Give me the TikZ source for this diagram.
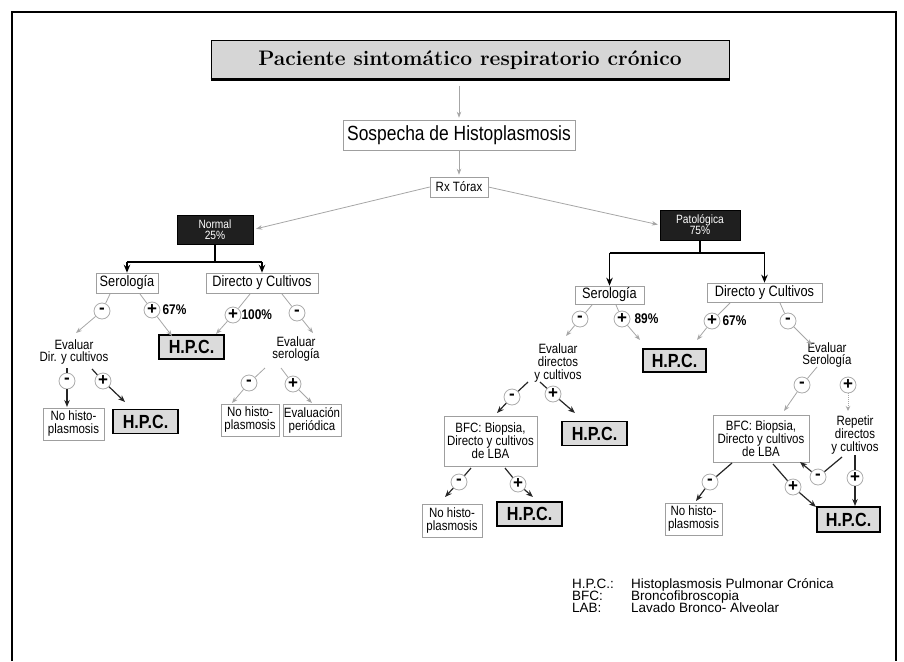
\documentclass[tikz,border=0pt]{standalone}
\usepackage{fontspec}
\newfontfamily\nar{Liberation Sans}[FakeStretch=0.85]
\newfontfamily\lsans{Liberation Sans}
\usetikzlibrary{arrows.meta,calc}
\newcommand\nfs[2]{\nar\fontsize{#1}{#2}\selectfont}
\begin{document}
\begin{tikzpicture}[x=1pt,y=-1pt,
  box/.style={draw=gray!75, line width=0.6pt, fill=white, inner sep=1pt, align=center, font=\nfs{15}{15}},
  small/.style={draw=gray!75, line width=0.6pt, fill=white, inner sep=1pt, align=center, font=\nfs{13.5}{13}},
  txt/.style={inner sep=0pt, align=center, font=\nfs{13.5}{12.8}},
  hpc/.style={draw=black, line width=1.4pt, fill=gray!28, inner sep=0pt, minimum width=65, minimum height=24, font=\nar\bfseries\fontsize{19}{19}\selectfont},
  darkbox/.style={fill=black!88, draw=black, inner sep=0pt, align=center, text=white!80, font=\nfs{12}{11}},
  sg/.style={circle, draw=gray!65, fill=white, line width=0.8pt, inner sep=0pt, minimum size=16pt, font=\lsans\bfseries\fontsize{17}{17}\selectfont},
  pct/.style={inner sep=0pt, anchor=west, font=\nar\bfseries\fontsize{14}{14}\selectfont},
  thinarr/.style={draw=gray!70, line width=0.8pt, -{Stealth[length=6pt,width=4.5pt]}},
  thickarr/.style={draw=black!85, line width=1.2pt, -{Stealth[length=7pt,width=5.5pt]}},
  dotarr/.style={draw=gray!70, line width=0.9pt, densely dotted, -{Stealth[length=5pt,width=4.5pt]}},
  branch/.style={draw=black, line width=1.4pt},
  brarr/.style={draw=black, line width=1.4pt, -{Stealth[length=8pt,width=6.5pt]}},
  leg/.style={inner sep=0pt, anchor=base west, font=\lsans\fontsize{13.5}{13.5}\selectfont}
]
\useasboundingbox (0,0) rectangle (904,661);
% frame
\draw[line width=2.5pt] (12,661) -- (12,12) -- (896,12) -- (896,661);

% top
\node[draw=black, line width=1pt, fill=gray!32, minimum width=518, minimum height=38, inner sep=0pt,
      font=\rmfamily\bfseries\fontsize{21}{21}\selectfont] (title) at (470,60) {Paciente sintomático respiratorio crónico};
\draw[line width=2.2pt] (title.south west) -- (title.south east);
\node[box, minimum width=232, minimum height=30, font=\nfs{20.5}{20.5}] (sosp) at (459,135) {Sospecha de Histoplasmosis};
\node[box, minimum width=58, minimum height=20, font=\nfs{13.5}{13.5}] (rx) at (459,187) {Rx Tórax};
\draw[thinarr, shorten <=6pt, shorten >=2pt] (sosp.north |- title.south) -- (sosp.north);
\draw[thinarr, shorten >=2pt] (sosp.south) -- (rx.north);

\node[darkbox, minimum width=76, minimum height=29] (normal) at (215,229.5) {Normal\\25\%};
\node[darkbox, minimum width=80, minimum height=30] (pato) at (700,225) {Patológica\\75\%};
\draw[thinarr, shorten >=3pt] (rx.west) -- (normal.east);
\draw[thinarr, shorten >=2pt] (rx.east) -- (pato.west);

% left level 2
\node[box, minimum width=62, minimum height=20] (ser1) at (127,283) {Serología};
\node[box, minimum width=112, minimum height=20] (dir1) at (262,283) {Directo y Cultivos};
\coordinate (nb) at (215,262);
\draw[branch] (normal.south) -- (nb);
\draw[branch] (ser1.north |- nb) -- (dir1.north |- nb);
\draw[brarr] (ser1.north |- nb) -- (ser1.north);
\draw[brarr] (dir1.north |- nb) -- (dir1.north);

% right level 2
\node[box, minimum width=69, minimum height=18] (ser2) at (609.5,295) {Serología};
\node[box, minimum width=115, minimum height=19] (dir2) at (764.5,292.5) {Directo y Cultivos};
\coordinate (pb) at (700,253);
\draw[branch] (pato.south) -- (pb);
\draw[branch] (ser2.north |- pb) -- (dir2.north |- pb);
\draw[brarr] (ser2.north |- pb) -- (ser2.north);
\draw[brarr] (dir2.north |- pb) -- (dir2.north);

% left results
\node[hpc] (hpc1) at (191.5,347) {H.P.C.};
\node[txt] (ev1) at (74,352) {Evaluar\\Dir. y cultivos};
\node[txt] (ev2) at (296,349) {Evaluar\\serología};
\node[small, minimum width=61, minimum height=32] (nh1) at (73.5,424) {No histo-\\plasmosis};
\node[hpc] (hpc2) at (145.5,421.5) {H.P.C.};
\node[small, minimum width=58, minimum height=32] (nh2) at (250,420) {No histo-\\plasmosis};
\node[small, minimum width=56, minimum height=32] (evp) at (312,420) {Evaluación\\periódica};

% right results
\node[hpc, minimum width=63, minimum height=23] (hpc3) at (674.5,360.5) {H.P.C.};
\node[txt] (ev3) at (558,363) {Evaluar\\directos\\y cultivos};
\node[txt] (ev4) at (827,355) {Evaluar\\Serología};
\node[small, minimum width=93, minimum height=50] (bfc1) at (490.5,441) {BFC: Biopsia,\\Directo y cultivos\\de LBA};
\node[hpc] (hpc4) at (594.5,433.5) {H.P.C.};
\node[small, minimum width=60, minimum height=33] (nh3) at (452,520.5) {No histo-\\plasmosis};
\node[hpc] (hpc5) at (529.5,514) {H.P.C.};
\node[small, minimum width=96, minimum height=47] (bfc2) at (761,438.5) {BFC: Biopsia,\\Directo y cultivos\\de LBA};
\node[txt] (rep) at (855,435) {Repetir\\directos\\y cultivos};
\node[small, minimum width=57, minimum height=32] (nh4) at (693.5,519) {No histo-\\plasmosis};
\node[hpc, minimum width=63, minimum height=25] (hpc6) at (848.5,519.5) {H.P.C.};

% sign circles
\node[sg] (s1) at (102,311) {-};
\node[sg] (s2) at (152,310) {+};
\node[sg] (s3) at (233,315) {+};
\node[sg] (s4) at (297,313) {-};
\node[sg] (s5) at (67,381) {-};
\node[sg] (s6) at (103,381) {+};
\node[sg] (s7) at (249,383) {-};
\node[sg] (s8) at (293,384) {+};
\node[sg] (s9) at (580,319) {-};
\node[sg] (s10) at (622,319) {+};
\node[sg] (s11) at (712,321) {+};
\node[sg] (s12) at (788,321) {-};
\node[sg] (s13) at (512,397) {-};
\node[sg] (s14) at (553,394) {+};
\node[sg] (s15) at (459,482) {-};
\node[sg] (s16) at (518,484) {+};
\node[sg] (s17) at (802,385) {-};
\node[sg] (s18) at (848,385) {+};
\node[sg] (s19) at (818,477) {-};
\node[sg] (s20) at (855,478) {+};
\node[sg] (s21) at (710,482) {-};
\node[sg] (s22) at (793,487) {+};

\node[pct] (p1) at ([xshift=2pt]s2.east) {67\%};
\node[pct] (p2) at ([xshift=0pt]s3.east) {100\%};
\node[pct] (p3) at ([xshift=4pt]s10.east) {89\%};
\node[pct] (p4) at ([xshift=2pt]s11.east) {67\%};

% start / end coordinates
\coordinate (a1) at (110,294); \coordinate (b1) at (76,333);
\coordinate (a2) at (140,294); \coordinate (b2) at (172,336);
\coordinate (a3) at (250,294); \coordinate (b3) at (216,334);
\coordinate (a4) at (282,294); \coordinate (b4) at (313,333);
\coordinate (a5) at (67,368);  \coordinate (b5) at (67,407);
\coordinate (a6) at (92,369);  \coordinate (b6) at (125,402);
\coordinate (a7) at (265,368); \coordinate (b7) at (232,403);
\coordinate (a8) at (281,368); \coordinate (b8) at (312,403);
\coordinate (a9) at (592,305); \coordinate (b9) at (566,336);
\coordinate (a10) at (616,305); \coordinate (b10) at (640,340);
\coordinate (a11) at (730,303); \coordinate (b11) at (697,340);
\coordinate (a12) at (780,303); \coordinate (b12) at (812,345);
\coordinate (a13) at (528,382); \coordinate (b13) at (497,413);
\coordinate (a14) at (540,382); \coordinate (b14) at (575,413);
\coordinate (a15) at (471,468); \coordinate (b15) at (445,497);
\coordinate (a16) at (505,468); \coordinate (b16) at (533,497);
\coordinate (a17) at (817,367); \coordinate (b17) at (784,411);
\coordinate (b18) at (848,411);
\coordinate (a19) at (842,457); \coordinate (b19) at (800,462);
\coordinate (a20) at (855,455); \coordinate (b20) at (855,506);
\coordinate (a21) at (732,463); \coordinate (b21) at (696,501);
\coordinate (a22) at (773,464); \coordinate (b22) at (816,507);

\draw[thinarr] (a1) -- (s1) -- (b1);
\draw[thinarr] (a2) -- (s2) -- (b2);
\draw[thinarr] (a3) -- (s3) -- (b3);
\draw[thinarr] (a4) -- (s4) -- (b4);
\draw[thickarr] (a5) -- (s5) -- (b5);
\draw[thickarr] (a6) -- (s6) -- (b6);
\draw[thinarr] (a7) -- (s7) -- (b7);
\draw[thinarr] (a8) -- (s8) -- (b8);
\draw[thinarr] (a9) -- (s9) -- (b9);
\draw[thinarr] (a10) -- (s10) -- (b10);
\draw[thinarr] (a11) -- (s11) -- (b11);
\draw[thinarr] (a12) -- (s12) -- (b12);
\draw[thickarr] (a13) -- (s13) -- (b13);
\draw[thickarr] (a14) -- (s14) -- (b14);
\draw[thickarr] (a15) -- (s15) -- (b15);
\draw[thickarr] (a16) -- (s16) -- (b16);
\draw[thinarr] (a17) -- (s17) -- (b17);
\draw[dotarr] (s18) -- (b18);
\draw[thickarr] (a19) -- (s19) -- (b19);
\draw[thickarr] (a20) -- (s20) -- (b20);
\draw[thickarr] (a21) -- (s21) -- (b21);
\draw[thickarr] (a22) -- (s22) -- (b22);

% legend
\node[leg] (l1a) at (572,588) {H.P.C.:};
\node[leg] (l1b) at (631,588) {Histoplasmosis Pulmonar Crónica};
\node[leg] (l2a) at (572,600) {BFC:};
\node[leg] (l2b) at (631,600) {Broncofibroscopia};
\node[leg] (l3a) at (572,612) {LAB:};
\node[leg] (l3b) at (631,612) {Lavado Bronco- Alveolar};
\end{tikzpicture}
\end{document}
